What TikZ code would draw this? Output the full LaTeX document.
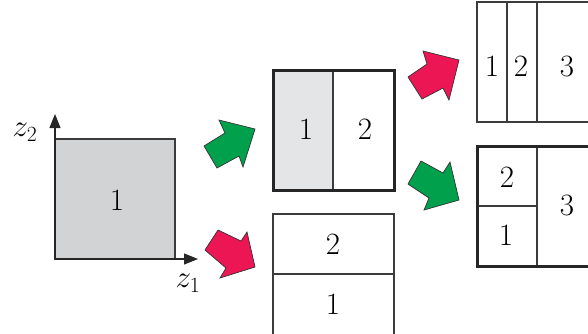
\RequirePackage{fix-cm}
\documentclass[tikz,border=0pt]{standalone}
\usetikzlibrary{arrows.meta}
\definecolor{boxgray}{RGB}{210,211,213}
\definecolor{lightgray}{RGB}{228,229,231}
\definecolor{arrgreen}{RGB}{0,160,76}
\definecolor{arrred}{RGB}{236,22,84}
\definecolor{edgegray}{RGB}{60,60,60}
\tikzset{
  thinbox/.style={draw=edgegray, line width=1.1pt},
  thickbox/.style={draw=black!85, line width=3pt},
  divider/.style={draw=edgegray, line width=1.1pt},
  axis/.style={draw=black!85, line width=1.1pt, -{Triangle[length=14pt,width=11pt]}},
  lbl/.style={inner sep=0pt, font=\fontsize{31}{36}\selectfont},
  greenarrow/.style={fill=arrgreen, draw=black!80, line width=0.7pt, line join=miter},
  redarrow/.style={fill=arrred, draw=black!80, line width=0.7pt, line join=miter},
}
\begin{document}
\begin{tikzpicture}[x=1pt, y=-1pt]
\clip (0,0) rectangle (588,333);

% initial domain with its axes
\fill[boxgray] (55,139) rectangle (175,259);
\draw[thinbox] (55,139) rectangle (175,259);
\coordinate (origin) at (55,259);
\coordinate (z2end) at (55,114);
\coordinate (z1end) at (198,259);
\draw[axis] (origin) -- (z2end);
\draw[axis] (origin) -- (z1end);
\node[lbl] (z2lbl) at (25,132) {$z_2$};
\node[lbl] (z1lbl) at (188,283) {$z_1$};
\node[lbl] (a1) at (117,200) {1};

% vertical split
\fill[lightgray] (273,70) rectangle (333,190);
\draw[divider] (333,70) -- (333,190);
\draw[thickbox] (273,70) rectangle (394,190);
\node[lbl] (b1) at (306,129) {1};
\node[lbl] (b2) at (365,129) {2};

% horizontal split
\draw[thinbox] (273,214) rectangle (394,345);
\draw[divider] (273,274) -- (394,274);
\node[lbl] (c2) at (333,244) {2};
\node[lbl] (c1) at (333,304) {1};

% three vertical strips
\draw[thinbox] (477,2) rectangle (597,122);
\draw[divider] (507,2) -- (507,122);
\draw[divider] (537,2) -- (537,122);
\node[lbl] (d1) at (492,66) {1};
\node[lbl] (d2) at (521,66) {2};
\node[lbl] (d3) at (567,66) {3};

% mixed split
\draw[divider] (537,146) -- (537,266);
\draw[divider] (477,206) -- (537,206);
\draw[thickbox] (477,146) rectangle (597,266);
\node[lbl] (e2) at (507,177) {2};
\node[lbl] (e1) at (506,235) {1};
\node[lbl] (e3) at (567,205) {3};

% block arrows
\draw[greenarrow] (204,146) -- (225,133) -- (219,120) -- (255,129) -- (243,167) -- (239,156) -- (217,168) -- cycle;
\draw[redarrow] (205,250) -- (218,230) -- (241,241) -- (247,232) -- (255,267) -- (220,278) -- (226,268) -- cycle;
\draw[redarrow] (408,77) -- (427,64) -- (423,51) -- (459,60) -- (449,100) -- (443,88) -- (422,99) -- cycle;
\draw[greenarrow] (408,184) -- (421,161) -- (443,173) -- (450,162) -- (459,200) -- (424,210) -- (429,198) -- cycle;
\end{tikzpicture}
\end{document}
